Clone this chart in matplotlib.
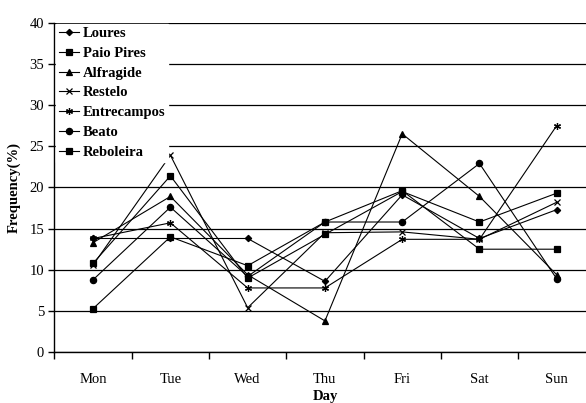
import matplotlib

matplotlib.use("Agg")

import matplotlib.pyplot as plt
import numpy as np

days = ["Mon", "Tue", "Wed", "Thu", "Fri", "Sat", "Sun"]

loures = [13.8, 13.8, 13.8, 8.6, 19.1, 13.8, 17.3]
paio_pires = [5.3, 14.0, 10.5, 15.8, 19.6, 12.5, 12.5]
alfragide = [13.3, 18.9, 9.4, 3.8, 26.5, 18.9, 9.4]
restelo = [10.6, 23.9, 5.4, 14.5, 14.6, 13.7, 18.2]
entrecampos = [13.8, 15.7, 7.8, 7.8, 13.7, 13.7, 27.5]
beato = [8.8, 17.6, 9.2, 15.8, 15.8, 22.9, 8.9]
reboleira = [10.8, 21.4, 9.0, 14.3, 19.5, 15.8, 19.3]

series = [
    ("Loures", loures, "D", 3.2),
    ("Paio Pires", paio_pires, "s", 5),
    ("Alfragide", alfragide, "^", 4.5),
    ("Restelo", restelo, "x", 4.5),
    ("Entrecampos", entrecampos, (6, 2, 0), 5),
    ("Beato", beato, "o", 4.5),
    ("Reboleira", reboleira, "s", 5),
]

plt.rcParams["font.family"] = ["Liberation Serif", "DejaVu Serif"]

fig = plt.figure(figsize=(5.86, 4.03), dpi=100)
ax = fig.add_axes([0.093, 0.126, 0.923, 0.818])

x = np.arange(len(days))
for name, values, marker, size in series:
    ax.plot(x, values, color="black", linewidth=0.8, marker=marker,
            markersize=size, markeredgewidth=0.9, label=name)

ax.set_xlim(-0.5, 6.5)
ax.set_ylim(0, 40)
ax.set_yticks(range(0, 41, 5))
ax.yaxis.grid(True, color="black", linewidth=0.9)
ax.set_axisbelow(True)

# day names sit between the boundary ticks
ax.set_xticks(x)
ax.set_xticklabels(days)
ax.set_xticks(np.arange(-0.5, 7, 1), minor=True)
ax.tick_params(axis="x", which="major", length=0, pad=15, labelsize=10.5)
ax.tick_params(axis="x", which="minor", length=5, width=1, direction="out")
ax.tick_params(axis="y", length=4, width=1, direction="out", labelsize=10.5)

for side in ("top", "right"):
    ax.spines[side].set_visible(False)
ax.spines["left"].set_linewidth(1)
ax.spines["bottom"].set_linewidth(1)

ax.set_xlabel("Day", fontweight="bold", fontsize=10.5, labelpad=3)
ax.set_ylabel("Frequency(%)", fontweight="bold", fontsize=10.5, labelpad=6)

leg = ax.legend(loc="upper left", frameon=True, fancybox=False,
                prop={"weight": "bold", "size": 10.5},
                handlelength=1.4, handletextpad=0.25, labelspacing=0.45,
                borderaxespad=0.1, borderpad=0.2)
leg.get_frame().set_edgecolor("white")
leg.get_frame().set_facecolor("white")
leg.get_frame().set_alpha(1)

fig.savefig("out.png", dpi=100)
